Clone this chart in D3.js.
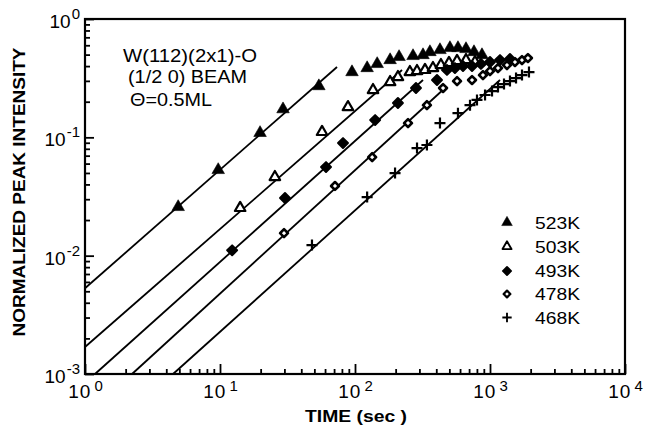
<!DOCTYPE html>
<html>
<head>
<meta charset="utf-8">
<script src="https://cdn.jsdelivr.net/npm/d3@7"></script>
<style>
  body { margin: 0; background: #fff; }
  svg { display: block; font-family: "Liberation Sans", Arial, Helvetica, sans-serif; }
</style>
</head>
<body>
<svg id="chart" width="646" height="430"></svg>
<script>
// ── data (time in sec, normalized peak intensity) ───────────
const legendLabels = ["523K", "503K", "493K", "478K", "468K"];
const xDecades = [1, 10, 100, 1000, 10000];
const xExponents = ["0", "1", "2", "3", "4"];
const yDecades = [1, 0.1, 0.01, 0.001];
const yExponents = ["0", "-1", "-2", "-3"];

const pts523 = [
  [4.9, 0.0258], [9.7, 0.053], [19.8, 0.109], [29.3, 0.173], [54, 0.271],
  [95, 0.356], [123, 0.385], [146, 0.417], [182, 0.45], [212, 0.478],
  [269, 0.487], [319, 0.496], [359, 0.526], [426, 0.547], [505, 0.569],
  [579, 0.569], [664, 0.558], [761, 0.526], [872, 0.496]
];
const pts503 = [
  [14.1, 0.0253], [25.5, 0.0462], [57, 0.111], [88.7, 0.18], [136, 0.251],
  [182, 0.293], [208, 0.323], [255, 0.356], [288, 0.363], [330, 0.371],
  [378, 0.385], [433, 0.408], [497, 0.425], [570, 0.442], [664, 0.45], [774, 0.433]
];
const pts493 = [
  [12.3, 0.0111], [30.3, 0.0307], [61, 0.0561], [81.5, 0.0895], [141, 0.14],
  [208, 0.195], [283, 0.261], [405, 0.305], [480, 0.371], [550, 0.385],
  [631, 0.4], [736, 0.4], [857, 0.417], [1000, 0.433], [1186, 0.45], [1406, 0.459]
];
const pts478 = [
  [29.8, 0.0155], [71.1, 0.0388], [134, 0.068], [247, 0.132], [341, 0.187],
  [449, 0.261], [570, 0.299], [736, 0.305], [887, 0.336], [1000, 0.363],
  [1146, 0.385], [1336, 0.408], [1531, 0.433], [1726, 0.45], [1910, 0.468]
];
const pts468 = [
  [48, 0.0123], [123, 0.0313], [198, 0.0499], [288, 0.0812], [341, 0.0861],
  [426, 0.132], [579, 0.16], [711, 0.187], [801, 0.207], [919, 0.228],
  [1035, 0.246], [1146, 0.266], [1270, 0.282], [1406, 0.299], [1559, 0.317],
  [1726, 0.336], [1944, 0.356]
];

// fitted straight lines (start, end)
const fit523 = [[1, 0.0053], [73.6, 0.393]];
const fit503 = [[1, 0.00169], [223, 0.371]];
const fit493 = [[1.186, 0.001], [319, 0.305]];
const fit478 = [[2.23, 0.001], [464, 0.261]];
const fit468 = [[4.49, 0.001], [1186, 0.305]];

// ── layout ──────────────────────────────────────────
const svg = d3.select("#chart");
const plotL = 85, plotR = 625, plotT = 19, plotB = 374;

const x = d3.scaleLog().domain([1, 10000]).range([plotL, plotR]);
const y = d3.scaleLog().domain([0.001, 1]).range([plotB, plotT]);

// ── markers ─────────────────────────────────────────
const triPath = d3.symbol(d3.symbolTriangle, 68)();
const triPathOpen = d3.symbol(d3.symbolTriangle, 48)();
function drawMarker(sel, kind) {
  switch (kind) {
    case 0:
      sel.append("path").attr("d", triPath).attr("fill", "#000")
        .attr("stroke", "#000").attr("stroke-width", 0.6).attr("stroke-linejoin", "round");
      break;
    case 1:
      sel.append("path").attr("d", triPathOpen).attr("fill", "#fff")
        .attr("stroke", "#000").attr("stroke-width", 2.2).attr("stroke-linejoin", "round");
      break;
    case 2:
      sel.append("rect").attr("x", -3.5).attr("y", -3.5).attr("width", 7).attr("height", 7)
        .attr("transform", "rotate(45)").attr("fill", "#000")
        .attr("stroke", "#000").attr("stroke-width", 2).attr("stroke-linejoin", "round");
      break;
    case 3:
      sel.append("rect").attr("x", -2.8).attr("y", -2.8).attr("width", 5.6).attr("height", 5.6)
        .attr("transform", "rotate(45)").attr("fill", "#fff")
        .attr("stroke", "#000").attr("stroke-width", 2.6).attr("stroke-linejoin", "round");
      break;
    case 4:
      sel.append("path").attr("d", "M-5.5,0H5.5M0,-5.5V5.5")
        .attr("stroke", "#000").attr("stroke-width", 2.2).attr("fill", "none");
      break;
  }
}

// ── fit lines ───────────────────────────────────────
const fits = [fit523, fit503, fit493, fit478, fit468];
const line = d3.line().x(d => x(d[0])).y(d => y(d[1]));
svg.append("g").selectAll("path")
  .data(fits).join("path")
  .attr("d", line)
  .attr("fill", "none")
  .attr("stroke", "#000")
  .attr("stroke-width", 1.8);

// ── points ──────────────────────────────────────────
const allPts = [pts523, pts503, pts493, pts478, pts468];
allPts.forEach((pts, k) => {
  svg.append("g").selectAll("g")
    .data(pts).join("g")
    .attr("transform", d => `translate(${x(d[0])},${y(d[1])})`)
    .call(sel => drawMarker(sel, k));
});

// ── axes ────────────────────────────────────────────
const xMinor = x.ticks().filter(v => !xDecades.includes(v));
const yMinor = y.ticks().filter(v => !yDecades.some(d => Math.abs(d - v) < 1e-12));

function styleAxis(g) {
  g.select(".domain").remove();
  g.selectAll(".tick line").attr("stroke", "#000").attr("stroke-width", 1.8);
}

svg.append("g").attr("transform", `translate(0,${plotB})`)
  .call(d3.axisBottom(x).tickValues(xMinor).tickSize(-5).tickFormat(""))
  .call(styleAxis);
svg.append("g").attr("transform", `translate(0,${plotB})`)
  .call(d3.axisBottom(x).tickValues(xDecades).tickSize(-10).tickFormat(""))
  .call(styleAxis);
svg.append("g").attr("transform", `translate(${plotL},0)`)
  .call(d3.axisLeft(y).tickValues(yMinor).tickSize(-5).tickFormat(""))
  .call(styleAxis);
svg.append("g").attr("transform", `translate(${plotL},0)`)
  .call(d3.axisLeft(y).tickValues(yDecades).tickSize(-9).tickFormat(""))
  .call(styleAxis);

// frame
svg.append("rect")
  .attr("x", plotL).attr("y", plotT)
  .attr("width", plotR - plotL).attr("height", plotB - plotT)
  .attr("fill", "none").attr("stroke", "#000").attr("stroke-width", 2.2);

// tick labels
const xl = svg.append("g").selectAll("text")
  .data(xDecades).join("text")
  .attr("x", d => x(d) + 1)
  .attr("y", 398)
  .attr("text-anchor", "middle")
  .attr("font-size", 19)
  .attr("letter-spacing", 1);
xl.append("tspan").text("10");
xl.append("tspan").attr("dy", -7).attr("dx", 3).attr("font-size", 15)
  .text((d, i) => xExponents[i]);

const yl = svg.append("g").selectAll("text")
  .data(yDecades).join("text")
  .attr("x", 80)
  .attr("y", d => y(d) + 9)
  .attr("text-anchor", "end")
  .attr("font-size", 19);
yl.append("tspan").text("10");
yl.append("tspan").attr("dy", -9).attr("dx", 1).attr("font-size", 15)
  .text((d, i) => yExponents[i]);

// axis titles
svg.append("text")
  .attr("x", 356).attr("y", 422)
  .attr("text-anchor", "middle")
  .attr("font-size", 17).attr("font-weight", "bold")
  .attr("textLength", 102).attr("lengthAdjust", "spacingAndGlyphs")
  .text("TIME (sec )");

svg.append("text")
  .attr("transform", "translate(25,192) rotate(-90)")
  .attr("text-anchor", "middle")
  .attr("font-size", 17).attr("font-weight", "bold")
  .attr("textLength", 289).attr("lengthAdjust", "spacingAndGlyphs")
  .text("NORMALIZED PEAK INTENSITY");

// annotation
const notes = ["W(112)(2x1)-O", "(1/2 0) BEAM", "\u0398=0.5ML"];
const noteX = [123, 128, 130];
const noteY = [62, 83, 106];
const noteW = [134, 119, 82];
svg.append("g").selectAll("text")
  .data(notes).join("text")
  .attr("x", (d, i) => noteX[i])
  .attr("y", (d, i) => noteY[i])
  .attr("font-size", 18)
  .attr("textLength", (d, i) => noteW[i])
  .attr("lengthAdjust", "spacingAndGlyphs")
  .text(d => d);

// legend
const legY = [222.5, 246.5, 271, 294, 317.5];
const leg = svg.append("g").selectAll("g")
  .data(legendLabels).join("g")
  .attr("transform", (d, i) => `translate(507,${legY[i]})`);
leg.each(function (d, i) {
  const g = d3.select(this);
  const m = g.append("g").attr("transform", "scale(0.85)");
  drawMarker(m, i);
  g.append("text")
    .attr("x", 28).attr("y", 6)
    .attr("font-size", 17)
    .attr("textLength", 45).attr("lengthAdjust", "spacingAndGlyphs")
    .text(d);
});
</script>
</body>
</html>
